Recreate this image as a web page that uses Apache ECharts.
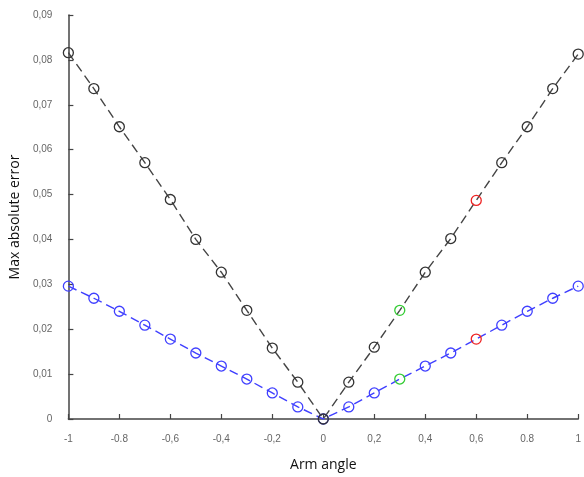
<!DOCTYPE html>
<html><head><meta charset="utf-8">
<script src="https://cdn.jsdelivr.net/npm/echarts@6/dist/echarts.min.js"></script>
<style>html,body{margin:0;padding:0;background:#fff}#c{width:584px;height:477px}</style>
</head><body><div id="c"></div>
<script>
const armAngle = [-1,-0.9,-0.8,-0.7,-0.6,-0.5,-0.4,-0.3,-0.2,-0.1,0,0.1,0.2,0.3,0.4,0.5,0.6,0.7,0.8,0.9,1];
const blackErr = [0.0816,0.0736,0.0651,0.0571,0.0489,0.0400,0.0327,0.0242,0.0158,0.0082,0,0.0082,0.0160,0.0242,0.0327,0.0402,0.0487,0.0571,0.0651,0.0736,0.0813];
const blueErr  = [0.0296,0.0269,0.0240,0.0209,0.0178,0.0147,0.0118,0.0089,0.0058,0.0027,0,0.0027,0.0058,0.0089,0.0118,0.0147,0.0178,0.0209,0.0240,0.0269,0.0296];
const greenAt = 0.3, redAt = 0.6;
const xTickLabels = ['-1','-0.8','-0,6','-0,4','-0,2','0','0,2','0,4','0,6','0.8','1'];
const yTickLabels = ['0','0,01','0,02','0,03','0,04','0,05','0,06','0,07','0,08','0,09'];

function build(vals){
  return armAngle.map((x,i)=>{
    const d = {value:[x, vals[i]]};
    if (Math.abs(x-greenAt)<1e-9) d.itemStyle = {borderColor:'#33cc33'};
    if (Math.abs(x-redAt)<1e-9) d.itemStyle = {borderColor:'#ee2222'};
    return d;
  });
}
const chart = echarts.init(document.getElementById('c'));
const axisCol = '#444';
chart.setOption({
  animation:false,
  backgroundColor:'#fff',
  grid:{left:67,right:4,top:15,bottom:57,containLabel:false},
  xAxis:{type:'value',min:-1,max:1,interval:0.2,
    name:'Arm angle',nameLocation:'middle',nameGap:39,
    nameTextStyle:{color:'#111',fontSize:14,fontFamily:'Open Sans'},
    axisLine:{show:true,onZero:false,lineStyle:{color:axisCol,width:1.5}},
    axisTick:{show:true,inside:true,length:5,lineStyle:{color:axisCol,width:1.2}},
    splitLine:{show:false},
    axisLabel:{margin:15,color:'#666',fontSize:10,fontFamily:'Liberation Sans',
      formatter:v=>xTickLabels[Math.round((v+1)/0.2)]}},
  yAxis:{type:'value',min:0,max:0.09,interval:0.01,
    name:'Max absolute error',nameLocation:'middle',nameGap:46,
    nameTextStyle:{color:'#111',fontSize:14,fontFamily:'Open Sans'},
    axisLine:{show:true,onZero:false,lineStyle:{color:axisCol,width:1.5}},
    axisTick:{show:true,inside:true,length:5,lineStyle:{color:axisCol,width:1.2}},
    splitLine:{show:false},
    axisLabel:{margin:16,color:'#666',fontSize:10,fontFamily:'Liberation Sans',
      formatter:v=>yTickLabels[Math.round(v/0.01)]}},
  series:[
    {type:'line',data:build(blueErr),symbol:'circle',symbolSize:10,
      lineStyle:{color:'#4040ff',width:1.4,type:[9,5]},
      itemStyle:{color:'rgba(0,0,0,0)',borderColor:'#4040ff',borderWidth:1.3}},
    {type:'line',data:build(blackErr),symbol:'circle',symbolSize:10,
      lineStyle:{color:'#444',width:1.4,type:[9,5]},
      itemStyle:{color:'rgba(0,0,0,0)',borderColor:'#333',borderWidth:1.3}}
  ]
});
</script></body></html>
